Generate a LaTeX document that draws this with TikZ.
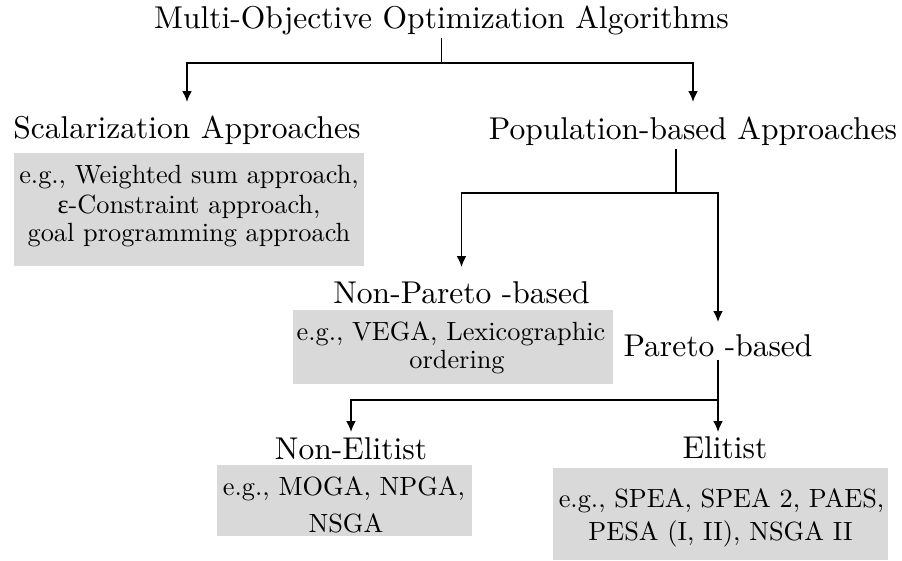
\documentclass[tikz,border=0pt]{standalone}
\usepackage{fontspec}
\newfontfamily\grkfont{Liberation Serif}
\usetikzlibrary{arrows.meta}
\definecolor{boxgray}{RGB}{217,217,217}
\begin{document}
\begin{tikzpicture}[x=0.3125pt,y=-0.3125pt,
  lbl/.style={inner sep=1pt, anchor=base, font=\fontsize{9.85}{11.8}\selectfont},
  gtxt/.style={inner sep=0pt, anchor=base, scale=0.835, transform shape, font=\fontsize{9.85}{11.8}\selectfont},
  conn/.style={draw=black, line width=0.5pt},
  arr/.style={conn, -{Latex[length=3.4pt,width=3pt]}},
  arrb/.style={conn, {Latex[length=3.4pt,width=3pt]}-{Latex[length=3.4pt,width=3pt]}},
  gboxfill/.style={fill=boxgray}]
\useasboundingbox (0,0) rectangle (902,560);

% gray boxes
\path[gboxfill] (14,153) rectangle (364,266);
\path[gboxfill] (293,310) rectangle (613,383.5);
\path[gboxfill] (217,465) rectangle (472,536);
\path[gboxfill] (553,468) rectangle (888,560);

% labels
\node[lbl] (title) at (441.5,28) {Multi-Objective Optimization Algorithms};
\node[lbl] (scal) at (187,138) {Scalarization Approaches};
\node[lbl] (pop) at (693,139) {Population-based Approaches};
\node[lbl] (npb) at (461.5,303) {Non-Pareto -based};
\node[lbl] (pb) at (718,356) {Pareto -based};
\node[lbl] (ne) at (351,459) {Non-Elitist};
\node[lbl] (el) at (725,458) {Elitist};

% box texts
\node[gtxt] (g1a) at (189,183) {e.g., Weighted sum approach,};
\node[gtxt] (g1b) at (189,213) {{\grkfont ε}-Constraint approach,};
\node[gtxt] (g1c) at (189,241) {goal programming approach};
\node[gtxt] (g2a) at (451,340) {e.g., VEGA, Lexicographic};
\node[gtxt] (g2b) at (457,368) {ordering};
\node[gtxt] (g3a) at (344,495) {e.g., MOGA, NPGA,};
\node[gtxt] (g3b) at (346,532) {NSGA};
\node[gtxt] (g4a) at (721.5,507.5) {e.g., SPEA, SPEA 2, PAES,};
\node[gtxt] (g4b) at (720.5,540) {PESA (I, II), NSGA II};

% levels
\coordinate (lv1) at (0,63);
\coordinate (tip1) at (0,102);
\coordinate (lv2) at (0,193);
\coordinate (tip2a) at (0,267);
\coordinate (tip2b) at (0,322);
\coordinate (popx) at (676,0);
\coordinate (lv3) at (0,400);
\coordinate (tip3) at (0,432);

% connectors
\draw[conn] (title.south) -- (title.south |- lv1);
\draw[arrb] (scal.north |- tip1) |- (pop.north |- lv1) -- (pop.north |- tip1);

\draw[conn] (pop.south -| popx) -- (popx |- lv2);
\draw[arrb] (npb.north |- tip2a) |- (pb.north |- lv2) -- (pb.north |- tip2b);

\draw[arr] (pb.south) -- (pb.south |- tip3);
\draw[arr] (pb.south |- lv3) -| (ne.north |- tip3);
\end{tikzpicture}
\end{document}
